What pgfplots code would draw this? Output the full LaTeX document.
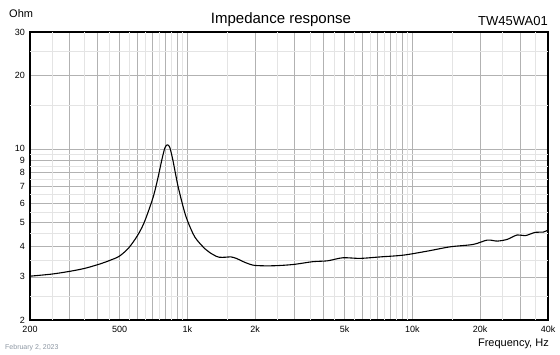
\documentclass[border=0pt]{standalone}
\usepackage{fontspec}
\setmainfont{Liberation Sans}
\usepackage{pgfplots}
\pgfplotsset{compat=1.18}
\definecolor{gmaj}{RGB}{178,178,178}
\definecolor{gmin}{RGB}{228,228,228}
\definecolor{dategray}{RGB}{140,150,162}
\begin{document}
\begin{tikzpicture}[x=1pt,y=1pt]
\path[use as bounding box] (0,0) rectangle (560,354);
\begin{axis}[
  at={(30pt,34pt)}, anchor=south west,
  scale only axis, width=518pt, height=288pt,
  xmode=log, ymode=log,
  xmin=200, xmax=40000, ymin=2, ymax=30,
  /pgf/number format/assume math mode=true,
  xtick={200,500,1000,2000,5000,10000,20000,40000},
  xticklabels={200,500,1k,2k,5k,10k,20k,40k},
  minor xtick={300,400,600,700,800,900,3000,4000,6000,7000,8000,9000,30000},
  ytick={2,3,4,5,6,7,8,9,10,20,30},
  yticklabels={2,3,4,5,6,7,8,9,10,20,30},
  minor ytick={},
  extra x ticks={250,350,450,550,650,750,850,950,1500,2500,3500,4500,5500,6500,7500,8500,9500,15000,25000,35000},
  extra x tick labels={},
  extra y ticks={2.5,3.5,4.5,5.5,6.5,7.5,8.5,9.5,15,25},
  extra y tick labels={},
  extra tick style={grid=major, major grid style={gmin, line width=0.6pt}, major tick length=0pt},
  grid=both,
  major grid style={gmaj, line width=0.6pt},
  minor grid style={gmaj, line width=0.6pt},
  major tick length=0pt, minor tick length=0pt,
  axis line style={black, line width=1.1pt},
  tick label style={font=\fontsize{9}{10}\selectfont},
  xticklabel style={yshift=-2.5pt},
  yticklabel style={xshift=-1.5pt},
  clip=true,
]
\addplot[black, line width=1.1pt, smooth] coordinates {
(200,3.02) (250,3.08) (300,3.16) (350,3.25) (410,3.39) (455,3.51)
(500,3.65) (550,3.95) (600,4.42) (640,4.95) (680,5.75) (710,6.50)
(740,7.60) (770,9.00) (795,10.10) (815,10.38) (835,10.15) (860,9.10)
(885,7.95) (910,7.00) (960,5.75) (1000,5.10) (1080,4.36) (1200,3.90)
(1300,3.70) (1380,3.61) (1480,3.61) (1560,3.62) (1650,3.57) (1750,3.48)
(1843,3.41) (2000,3.34) (2400,3.33) (2950,3.37) (3600,3.46) (4200,3.49)
(4900,3.59) (5860,3.57) (7200,3.62) (9100,3.68) (11600,3.82) (14700,3.98)
(18600,4.07) (21500,4.24) (23800,4.20) (26400,4.27) (29200,4.45) (31700,4.42)
(35100,4.56) (38100,4.57) (40000,4.66)
};
\end{axis}
\node[anchor=base west, inner sep=0] at (9,336.7) {\fontsize{11}{13}\selectfont Ohm};
\node[anchor=base, inner sep=0] at (281,330.7) {\fontsize{15}{18}\selectfont Impedance response};
\node[anchor=base east, inner sep=0] at (548,328) {\fontsize{13}{15}\selectfont TW45WA01};
\node[anchor=base east, inner sep=0] at (549,7.5) {\fontsize{11}{13}\selectfont Frequency, Hz};
\node[anchor=base west, inner sep=0, text=dategray] at (5,4.5) {\fontsize{7}{8}\selectfont February 2, 2023};
\end{tikzpicture}
\end{document}
